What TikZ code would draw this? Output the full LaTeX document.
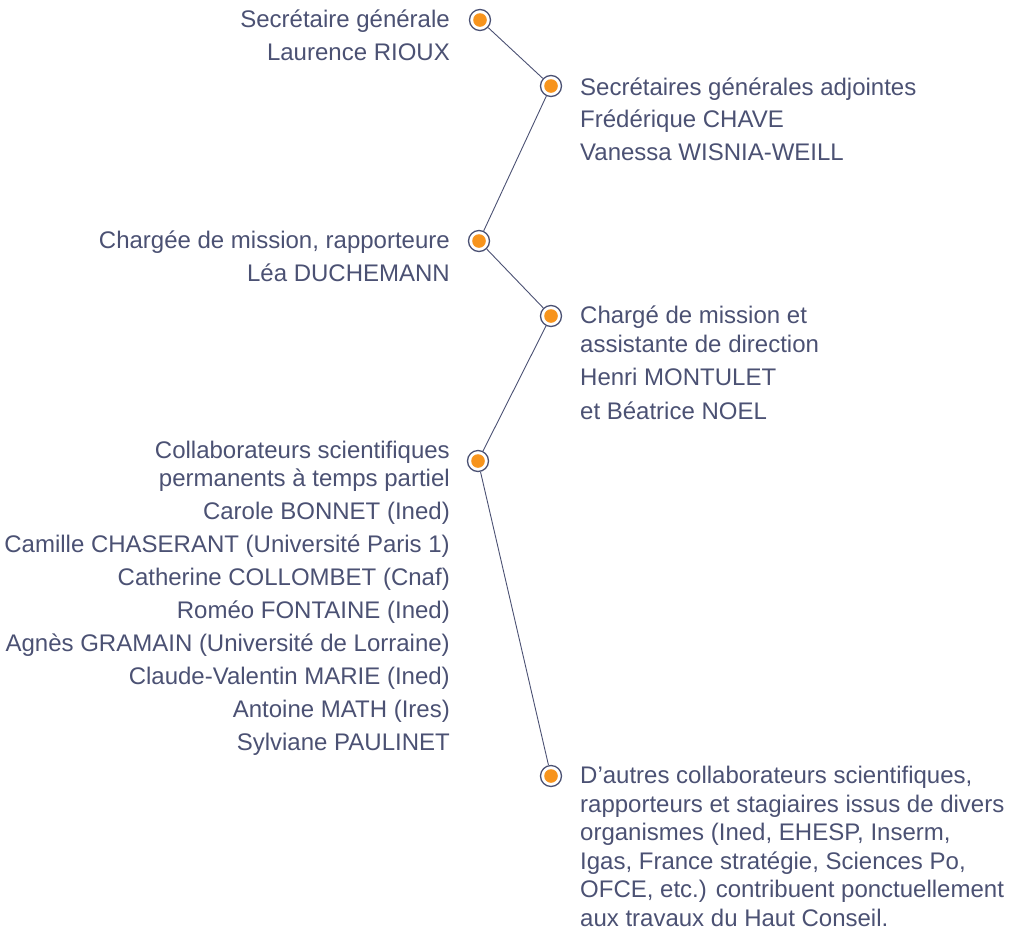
\documentclass[tikz,border=0pt]{standalone}
\usepackage{fontspec}
\setmainfont{Liberation Sans}
\usetikzlibrary{positioning}
\definecolor{slate}{HTML}{4B5173}
\definecolor{dotorange}{HTML}{F7941D}

\begin{document}
\begin{tikzpicture}[x=1pt, y=-1pt,
      marker/.style={circle, draw=slate, line width=1.3pt, fill=white, minimum size=21pt, inner sep=0pt,
        path picture={\fill[dotorange] (path picture bounding box.center) circle (6.8pt);}},
      link/.style={draw=slate, line width=0.9pt},
      every node/.style={text=slate, font=\fontsize{24}{28.5}\selectfont},
      lefttext/.style={align=right, anchor=north east, inner sep=0pt},
      righttext/.style={align=left, anchor=north west, inner sep=0pt}
    ]
    \useasboundingbox (0,0) rectangle (1015,930);
    % markers
    \node[marker] (m1) at (480,20) {};
    \node[marker] (m2) at (551,86) {};
    \node[marker] (m3) at (479,241) {};
    \node[marker] (m4) at (551,316) {};
    \node[marker] (m5) at (478,461) {};
    \node[marker] (m6) at (551,776) {};
    % links
    \foreach \a/\b in {m1/m2, m2/m3, m3/m4, m4/m5, m5/m6}
      \draw[link] (\a) -- (\b);
    % texts
    \node[lefttext] (t1) at ([xshift=-30pt, yshift=12.5pt]m1.center)
      {\strut Secrétaire générale\\[4pt] Laurence RIOUX};
    \node[righttext] (t2) at ([xshift=29pt, yshift=11pt]m2.center)
      {\strut Secrétaires générales adjointes\\[4pt] Frédérique CHAVE\\[4pt] Vanessa WISNIA-WEILL};
    \node[lefttext] (t3) at ([xshift=-29pt, yshift=12.5pt]m3.center)
      {\strut Chargée de mission, rapporteure\\[4pt] Léa DUCHEMANN};
    \node[righttext] (t4) at ([xshift=29pt, yshift=12.5pt]m4.center)
      {\strut Chargé de mission et\\ assistante de direction\\[5pt] Henri MONTULET\\[5pt] et Béatrice NOEL};
    \node[lefttext] (t5) at ([xshift=-28pt, yshift=23pt]m5.center)
      {\strut Collaborateurs scientifiques\\ permanents à temps partiel\\[4.5pt]
       Carole BONNET (Ined)\\[4.5pt] Camille CHASERANT (Université Paris 1)\\[4.5pt]
       Catherine COLLOMBET (Cnaf)\\[4.5pt] Roméo FONTAINE (Ined)\\[4.5pt]
       Agnès GRAMAIN (Université de Lorraine)\\[4.5pt] Claude-Valentin MARIE (Ined)\\[4.5pt]
       Antoine MATH (Ires)\\[4.5pt] Sylviane PAULINET};
    \node[righttext] (t6) at ([xshift=29pt, yshift=12.5pt]m6.center)
      {\strut D’autres collaborateurs scientifiques,\\ rapporteurs et stagiaires issus de divers\\
       organismes (Ined, EHESP, Inserm,\\ Igas, France stratégie, Sciences Po,\\
       OFCE, etc.) contribuent ponctuellement\\ aux travaux du Haut Conseil.};
\end{tikzpicture}
\end{document}
